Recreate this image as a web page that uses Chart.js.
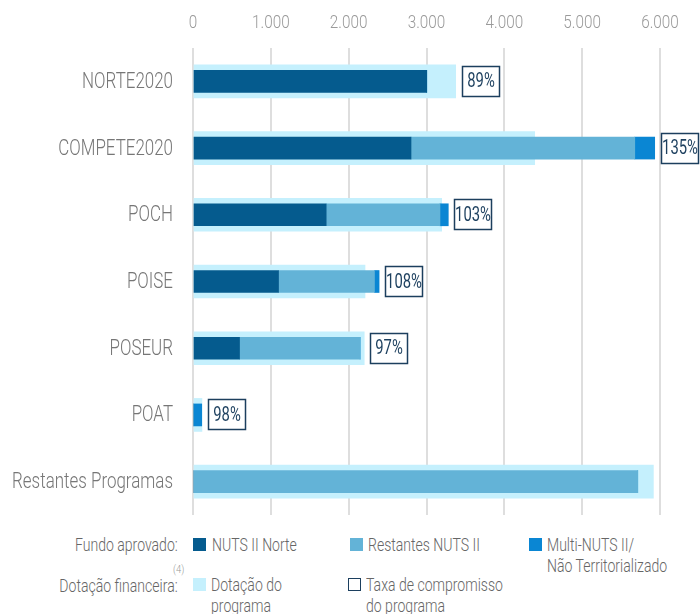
<!DOCTYPE html>
<html>
<head>
<meta charset="utf-8">
<script src="https://cdn.jsdelivr.net/npm/chart.js@4"></script>
<style>
  body { margin: 0; background: #fff; }
  #wrap { position: relative; width: 700px; height: 614px; overflow: hidden; font-family: Roboto, "Noto Sans", sans-serif; font-weight: 300; color: #666; }
  canvas { position: absolute; left: 0; top: 0; }
  .lg { position: absolute; font-size: 18px; line-height: 21px; white-space: nowrap; transform: scaleX(0.78); transform-origin: left top; }
  .lbl { text-align: right; right: 522px; transform-origin: right top; }
  .sq { position: absolute; width: 13px; height: 13px; }
  .note { position: absolute; left: 173px; top: 563px; font-size: 11px; color: #999; transform: scaleX(0.85); transform-origin: left top; }
</style>
</head>
<body>
<div id="wrap">
  <canvas id="chart" width="700" height="525"></canvas>

  <div class="lg lbl" style="top:534px;">Fundo aprovado:</div>
  <div class="sq" style="left:193px; top:538px; background:#055b8e;"></div>
  <div class="lg" style="left:212px; top:534px;">NUTS II Norte</div>
  <div class="sq" style="left:350px; top:538px; background:#63b3d7;"></div>
  <div class="lg" style="left:368px; top:534px;">Restantes NUTS II</div>
  <div class="sq" style="left:529px; top:538px; background:#0a86d3;"></div>
  <div class="lg" style="left:547px; top:534px;">Multi-NUTS II/<br>Não Territorializado</div>

  <div class="lg lbl" style="top:575px;">Dotação financeira:</div>
  <div class="note">(4)</div>
  <div class="sq" style="left:193px; top:578px; background:#c5f0fd;"></div>
  <div class="lg" style="left:211px; top:574px;">Dotação do<br>programa</div>
  <div class="sq" style="left:348px; top:578px; width:11px; height:11px; border:1px solid #1c3f5e; background:#fff;"></div>
  <div class="lg" style="left:366px; top:574px;">Taxa de compromisso<br>do programa</div>
</div>

<script>
const programas = ["NORTE2020", "COMPETE2020", "POCH", "POISE", "POSEUR", "POAT", "Restantes Programas"];
const dotacao = [3375, 4390, 3195, 2210, 2200, 115, 5915];
const nutsNorte = [3003, 2801, 1711, 1099, 598, 0, 0];
const restantesNuts = [0, 2875, 1462, 1232, 1549, 0, 5714];
const multiNuts = [0, 256, 107, 60, 0, 112, 0];
const taxaCompromisso = [89, 135, 103, 108, 97, 98, null];
const xTicks = [0, 1000, 2000, 3000, 4000, 5000, 6000];

const FONT = 'Roboto, "Noto Sans", sans-serif';

// texto estreito (a fonte original é condensada)
function narrowText(ctx, text, x, y, align, sx) {
  ctx.save();
  ctx.translate(x, y);
  ctx.scale(sx, 1);
  ctx.textAlign = align;
  ctx.fillText(text, 0, 0);
  ctx.restore();
}

// rótulos dos eixos e caixas com a taxa de compromisso
const labelsAndBoxes = {
  id: "labelsAndBoxes",
  afterDatasetsDraw(chart) {
    const ctx = chart.ctx;
    const xs = chart.scales.x;
    const ys = chart.scales.y;
    ctx.save();
    ctx.textBaseline = "middle";

    ctx.fillStyle = "#9a9a9a";
    ctx.font = "300 18px " + FONT;
    xTicks.forEach(v => {
      narrowText(ctx, v.toLocaleString("de-DE"), xs.getPixelForValue(v), 23, "center", 0.85);
    });

    ctx.fillStyle = "#767676";
    ctx.font = "300 22px " + FONT;
    programas.forEach((p, i) => {
      narrowText(ctx, p, chart.chartArea.left - 20, ys.getPixelForValue(i) + 1, "right", 0.77);
    });

    taxaCompromisso.forEach((t, i) => {
      if (t == null) return;
      const fundo = nutsNorte[i] + restantesNuts[i] + multiNuts[i];
      const xEnd = Math.max(xs.getPixelForValue(dotacao[i]), xs.getPixelForValue(fundo));
      const y = ys.getPixelForValue(i);
      const w = 38, h = 31;
      const x0 = Math.round(xEnd + 6);
      const y0 = Math.round(y - h / 2);
      ctx.fillStyle = "#fff";
      ctx.fillRect(x0, y0, w, h);
      ctx.strokeStyle = "#1c3f5e";
      ctx.lineWidth = 1.5;
      ctx.strokeRect(x0 + 0.5, y0 + 0.5, w - 1, h - 1);
      ctx.fillStyle = "#1c3f5e";
      ctx.font = "400 20px " + FONT;
      narrowText(ctx, t + "%", x0 + w / 2, y + 1, "center", 0.74);
    });
    ctx.restore();
  }
};

new Chart(document.getElementById("chart"), {
  type: "bar",
  data: {
    labels: programas,
    datasets: [
      { label: "NUTS II Norte", data: nutsNorte, backgroundColor: "#055b8e", stack: "fundo", barThickness: 22, grouped: false },
      { label: "Restantes NUTS II", data: restantesNuts, backgroundColor: "#63b3d7", stack: "fundo", barThickness: 22, grouped: false },
      { label: "Multi-NUTS II/Não Territorializado", data: multiNuts, backgroundColor: "#0a86d3", stack: "fundo", barThickness: 22, grouped: false },
      { label: "Dotação do programa", data: dotacao, backgroundColor: "#c5f0fd", stack: "dotacao", barThickness: 33, grouped: false }
    ]
  },
  options: {
    indexAxis: "y",
    responsive: false,
    animation: false,
    layout: { padding: { right: 40, bottom: 10 } },
    plugins: {
      legend: { display: false },
      tooltip: { enabled: false }
    },
    scales: {
      x: {
        position: "top",
        stacked: true,
        min: 0,
        max: 6000,
        afterBuildTicks: (scale) => { scale.ticks = xTicks.map(v => ({ value: v })); },
        afterFit: (scale) => { scale.height = 48; },
        ticks: { display: false },
        grid: { color: "#dedede", lineWidth: 2, drawTicks: false },
        border: { display: false }
      },
      y: {
        stacked: true,
        afterFit: (scale) => { scale.width = 193; },
        ticks: { display: false },
        grid: { display: false, drawTicks: false },
        border: { display: false }
      }
    }
  },
  plugins: [labelsAndBoxes]
});
</script>
</body>
</html>
